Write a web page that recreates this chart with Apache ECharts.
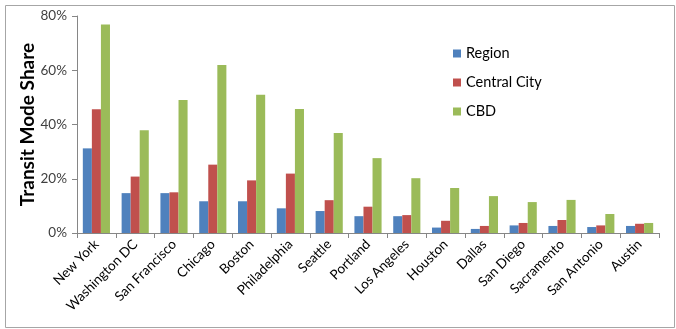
<!DOCTYPE html>
<html>
<head>
<meta charset="utf-8">
<script src="https://cdn.jsdelivr.net/npm/echarts@6/dist/echarts.min.js"></script>
<style>
  html, body { margin: 0; padding: 0; background: #ffffff; }
  #chart { width: 676px; height: 329px; }
</style>
</head>
<body>
<div id="chart"></div>
<script>
// Cities along the category axis
const cities = ['New York', 'Washington DC', 'San Francisco', 'Chicago', 'Boston',
  'Philadelphia', 'Seattle', 'Portland', 'Los Angeles', 'Houston', 'Dallas',
  'San Diego', 'Sacramento', 'San Antonio', 'Austin'];

// Transit mode share (%) by geography
const region      = [31.2, 14.7, 14.7, 11.7, 11.7, 9.1, 8.1, 6.2, 6.2, 2.0, 1.5, 2.8, 2.6, 2.2, 2.6];
const centralCity = [45.6, 20.8, 15.0, 25.2, 19.4, 21.9, 12.1, 9.7, 6.6, 4.5, 2.6, 3.7, 4.8, 2.8, 3.4];
const cbd         = [76.9, 37.9, 49.0, 61.9, 51.0, 45.7, 36.9, 27.6, 20.2, 16.6, 13.6, 11.4, 12.2, 7.0, 3.7];

// Value axis ticks
const yTicks = { min: 0, max: 80, interval: 20 };

const font = 'Lato, "Open Sans", sans-serif';
const chart = echarts.init(document.getElementById('chart'), null, { renderer: 'canvas' });

const bar = (name, data, color) => ({
  name, type: 'bar', data,
  itemStyle: { color },
  barGap: '0%', barCategoryGap: '30%'
});

chart.setOption({
  animation: false,
  textStyle: { fontFamily: font },
  graphic: [{
    type: 'rect', left: 3, top: 3,
    shape: { width: 669, height: 322 },
    style: { fill: 'none', stroke: '#a6a6a6', lineWidth: 1 }
  }],
  grid: { left: 77, right: 17, top: 16, bottom: 96, containLabel: false },
  legend: {
    orient: 'vertical', left: 448, top: 41,
    itemWidth: 8, itemHeight: 8, itemGap: 14,
    icon: 'rect',
    textStyle: { fontFamily: font, fontSize: 14.5, color: '#000' },
    data: ['Region', 'Central City', 'CBD']
  },
  xAxis: {
    type: 'category', data: cities,
    axisLine: { lineStyle: { color: '#868686' } },
    axisTick: { show: true, length: 5, lineStyle: { color: '#868686' } },
    axisLabel: { rotate: 45, fontSize: 13.5, color: '#000', margin: 9, interval: 0, fontFamily: font }
  },
  yAxis: {
    type: 'value', min: yTicks.min, max: yTicks.max, interval: yTicks.interval,
    name: 'Transit Mode Share', nameLocation: 'middle', nameGap: 40,
    nameMoveOverlap: false,
    nameTextStyle: { fontFamily: font, fontSize: 19, fontWeight: 'bold', color: '#000' },
    axisLine: { show: true, lineStyle: { color: '#868686' } },
    axisTick: { show: true, length: 5, lineStyle: { color: '#868686' } },
    splitLine: { show: false },
    axisLabel: { formatter: '{value}%', fontSize: 13.5, color: '#404040', margin: 10, fontFamily: font }
  },
  series: [
    bar('Region', region, '#4F81BD'),
    bar('Central City', centralCity, '#C0504D'),
    bar('CBD', cbd, '#9BBB59')
  ]
});
</script>
</body>
</html>
